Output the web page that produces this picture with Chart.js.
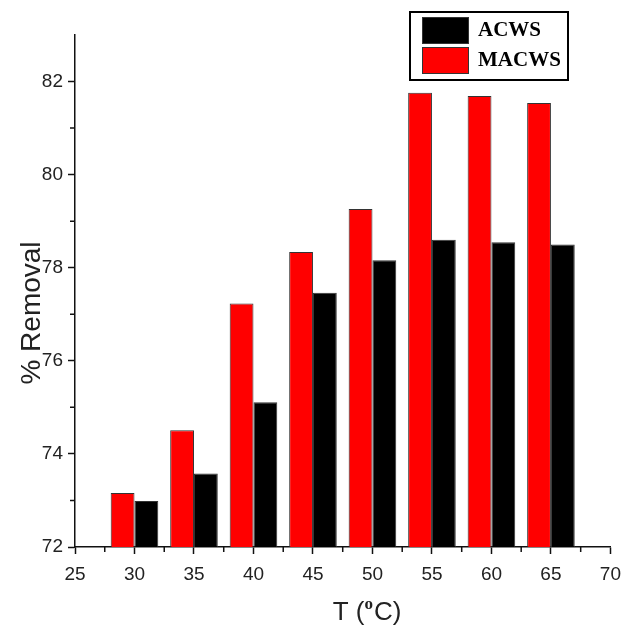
<!DOCTYPE html>
<html>
<head>
<meta charset="utf-8">
<script src="https://cdn.jsdelivr.net/npm/chart.js@4/dist/chart.umd.min.js"></script>
<style>
  html, body { margin: 0; padding: 0; background: #fff; }
  #wrap { width: 630px; height: 625px; position: relative; }
</style>
</head>
<body>
<div id="wrap"><canvas id="chart"></canvas></div>
<script>
// values
const temps = [30, 35, 40, 45, 50, 55, 60, 65];
const acws = [72.99, 73.58, 75.11, 77.46, 78.16, 78.60, 78.55, 78.50];
const macws = [73.16, 74.51, 77.23, 78.34, 79.26, 81.76, 81.69, 81.54];
const xTicks = [25, 30, 35, 40, 45, 50, 55, 60, 65, 70];
const xMinor = [27.5, 32.5, 37.5, 42.5, 47.5, 52.5, 57.5, 62.5, 67.5];
const yTicks = [72, 74, 76, 78, 80, 82];
const yMinor = [73, 75, 77, 79, 81];

const sans = 'Liberation Sans, Arial, sans-serif';
const serif = 'Liberation Serif, Times New Roman, serif';
const tickFont = { family: sans, size: 19 };

// minor ticks, axis titles (with superscript) and the boxed legend
const extras = {
  id: 'extras',
  afterDraw(chart) {
    const ctx = chart.ctx;
    const xs = chart.scales.x, ys = chart.scales.y;
    const area = chart.chartArea;
    ctx.save();
    ctx.strokeStyle = '#111';
    ctx.lineWidth = 1.5;
    ctx.beginPath();
    xMinor.forEach(v => {
      const px = xs.getPixelForValue(v);
      ctx.moveTo(px, area.bottom);
      ctx.lineTo(px, area.bottom + 5);
    });
    yMinor.forEach(v => {
      const py = ys.getPixelForValue(v);
      ctx.moveTo(area.left, py);
      ctx.lineTo(area.left - 5, py);
    });
    ctx.stroke();

    ctx.fillStyle = '#222';
    ctx.textBaseline = 'alphabetic';

    // y axis title
    ctx.save();
    ctx.translate(40, 313);
    ctx.rotate(-Math.PI / 2);
    ctx.textAlign = 'center';
    ctx.font = '28px ' + sans;
    ctx.fillText('% Removal', 0, 0);
    ctx.restore();

    // x axis title: T (°C) with bold superscript o
    const cx = 367;
    const by = 620;
    const p1 = 'T (', p3 = 'C)';
    ctx.font = '26px ' + sans;
    const w1 = ctx.measureText(p1).width, w3 = ctx.measureText(p3).width;
    ctx.font = 'bold 17px ' + serif;
    const w2 = ctx.measureText('o').width + 1;
    const x0 = cx - (w1 + w2 + w3) / 2;
    ctx.textAlign = 'left';
    ctx.font = '26px ' + sans;
    ctx.fillText(p1, x0, by);
    ctx.font = 'bold 17px ' + serif;
    ctx.fillText('o', x0 + w1, by - 11);
    ctx.font = '26px ' + sans;
    ctx.fillText(p3, x0 + w1 + w2, by);

    // legend
    ctx.fillStyle = '#fff';
    ctx.fillRect(410, 12, 158, 68);
    ctx.lineWidth = 2;
    ctx.strokeStyle = '#000';
    ctx.strokeRect(410, 12, 158, 68);
    const order = [1, 0];
    order.forEach((di, k) => {
      const ds = chart.data.datasets[di];
      const y = 17 + k * 30;
      ctx.fillStyle = ds.backgroundColor;
      ctx.fillRect(422, y, 46, 26);
      ctx.lineWidth = 1;
      ctx.strokeStyle = '#333';
      ctx.strokeRect(422.5, y + 0.5, 46, 26);
      ctx.fillStyle = '#000';
      ctx.font = 'bold 21px ' + serif;
      ctx.textBaseline = 'middle';
      ctx.fillText(ds.label, 478, y + 14);
    });
    ctx.restore();
  }
};

new Chart(document.getElementById('chart'), {
  type: 'bar',
  data: {
    datasets: [
      {
        label: 'MACWS',
        data: temps.map((t, i) => ({ x: t, y: macws[i] })),
        backgroundColor: '#ff0000',
        borderColor: '#333',
        borderWidth: 1
      },
      {
        label: 'ACWS',
        data: temps.map((t, i) => ({ x: t, y: acws[i] })),
        backgroundColor: '#000000',
        borderColor: '#333',
        borderWidth: 1
      }
    ]
  },
  options: {
    responsive: true,
    maintainAspectRatio: false,
    animation: false,
    devicePixelRatio: 1,
    categoryPercentage: 0.8,
    barPercentage: 1.0,
    layout: { padding: { left: 0, right: 12, top: 35, bottom: 0 } },
    plugins: { legend: { display: false }, tooltip: { enabled: false } },
    scales: {
      x: {
        type: 'linear',
        min: 25,
        max: 70,
        offset: false,
        afterBuildTicks: s => { s.ticks = xTicks.map(v => ({ value: v })); },
        afterFit: s => { s.height = 78; },
        ticks: { font: tickFont, color: '#222', padding: 9, maxRotation: 0, autoSkip: false },
        grid: { offset: false, drawOnChartArea: false, tickLength: 7, tickColor: '#111', tickWidth: 1.5 },
        border: { color: '#111', width: 1.5 }
      },
      y: {
        min: 72,
        max: 83,
        afterBuildTicks: s => { s.ticks = yTicks.map(v => ({ value: v })); },
        afterFit: s => { s.width = 75; },
        ticks: { font: tickFont, color: '#222', padding: 5 },
        grid: { drawOnChartArea: false, tickLength: 7, tickColor: '#111', tickWidth: 1.5 },
        border: { color: '#111', width: 1.5 }
      }
    }
  },
  plugins: [extras]
});
</script>
</body>
</html>
